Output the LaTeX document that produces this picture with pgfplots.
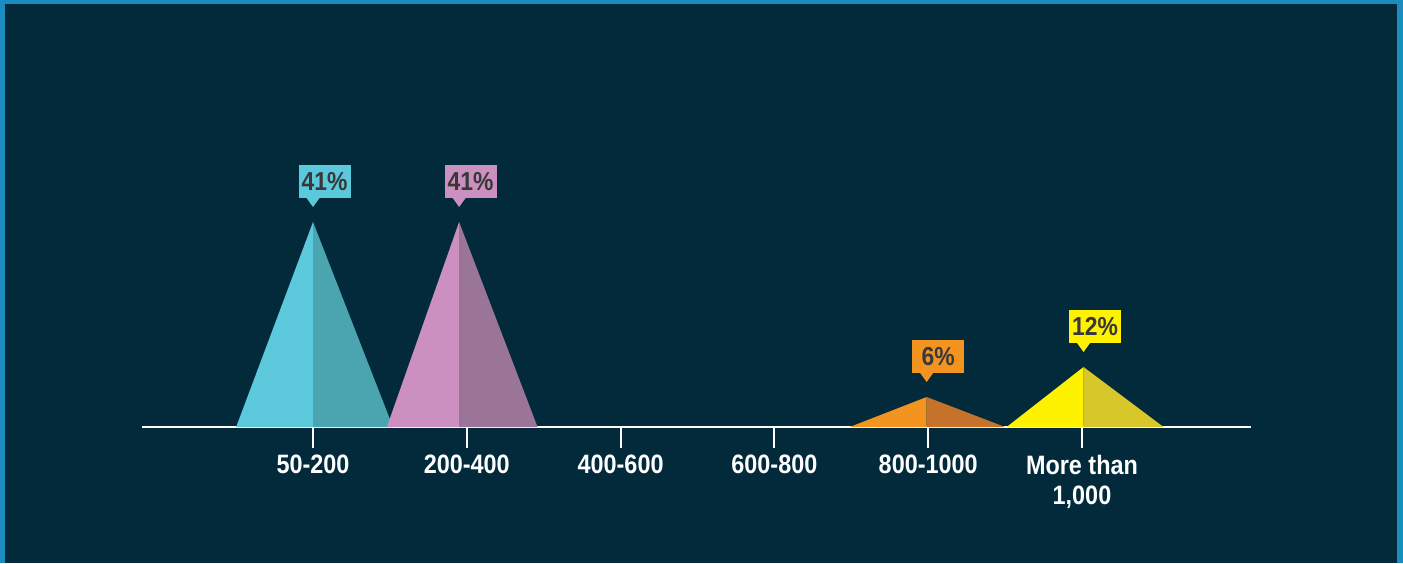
\documentclass[border=0pt]{standalone}
\usepackage{fontspec}
\setmainfont{Liberation Sans}[FakeStretch=0.88]
\usepackage{pgfplots}
\pgfplotsset{compat=1.18}

\definecolor{frameblue}{HTML}{1A8CC0}
\definecolor{sea}{HTML}{032A3A}
\definecolor{cyanL}{HTML}{5BC8DC}
\definecolor{cyanD}{HTML}{4AA5B0}
\definecolor{pinkL}{HTML}{CB90C0}
\definecolor{pinkD}{HTML}{9B7597}
\definecolor{orangeL}{HTML}{F39320}
\definecolor{orangeD}{HTML}{C6722A}
\definecolor{yellowL}{HTML}{FFF200}
\definecolor{yellowD}{HTML}{D8C72B}
\definecolor{labelgray}{HTML}{383838}

\tikzset{
  valbox/.style={rectangle, anchor=south, xshift=5.75pt, yshift=12pt,
    minimum width=26pt, minimum height=16.5pt, inner sep=0pt,
    text=labelgray, font=\bfseries\fontsize{13}{14}\selectfont}
}
% small downward pointer under a value box
\newcommand{\pointer}[2]{%
  \fill[#2] ([xshift=-9pt]#1.south) -- ([xshift=-2.5pt]#1.south)
    -- ([xshift=-5.75pt,yshift=-4.5pt]#1.south) -- cycle;}

\begin{document}
\begin{tikzpicture}
\fill[frameblue] (0,0) rectangle (701.5pt,281.5pt);
\fill[sea] (2.5pt,0) rectangle (698.5pt,279.5pt);
\useasboundingbox (0,0) rectangle (701.5pt,281.5pt);
\begin{axis}[
  at={(71pt,68pt)}, anchor=south west, scale only axis,
  width=554.5pt, height=125pt,
  xmin=-1.112, xmax=6.099, ymin=0, ymax=50,
  axis x line*=bottom, axis y line=none,
  x axis line style={white, line width=1pt, -},
  xtick={0,1,2,3,4,5},
  xticklabels={50-200,200-400,400-600,600-800,800-1000,{More than\\1,000}},
  tick align=outside, major tick length=10.5pt,
  every tick/.style={white, line width=1pt},
  x tick label style={text=white, align=center, inner sep=2pt, yshift=-1.5pt,
    font=\bfseries\fontsize{13.3}{15}\selectfont},
  clip=false,
]
% 50-200: 41%
\addplot[fill=cyanL, draw=none] coordinates {(-0.50,0) (0,41) (0,0)} -- cycle;
\addplot[fill=cyanD, draw=none] coordinates {(0,0) (0,41) (0.52,0)} -- cycle;
\node[valbox, fill=cyanL] (a) at (axis cs:0,41) {41\%};
\pointer{a}{cyanL}
% 200-400: 41%
\addplot[fill=pinkL, draw=none] coordinates {(0.48,0) (0.95,41) (0.95,0)} -- cycle;
\addplot[fill=pinkD, draw=none] coordinates {(0.95,0) (0.95,41) (1.46,0)} -- cycle;
\node[valbox, fill=pinkL] (b) at (axis cs:0.95,41) {41\%};
\pointer{b}{pinkL}
% 800-1000: 6%
\addplot[fill=orangeL, draw=none] coordinates {(3.49,0) (3.99,6) (3.99,0)} -- cycle;
\addplot[fill=orangeD, draw=none] coordinates {(3.99,0) (3.99,6) (4.50,0)} -- cycle;
\node[valbox, fill=orangeL] (c) at (axis cs:3.99,6) {6\%};
\pointer{c}{orangeL}
% More than 1,000: 12%
\addplot[fill=yellowL, draw=none] coordinates {(4.51,0) (5.01,12) (5.01,0)} -- cycle;
\addplot[fill=yellowD, draw=none] coordinates {(5.01,0) (5.01,12) (5.53,0)} -- cycle;
\node[valbox, fill=yellowL] (d) at (axis cs:5.01,12) {12\%};
\pointer{d}{yellowL}
\end{axis}
\end{tikzpicture}
\end{document}
